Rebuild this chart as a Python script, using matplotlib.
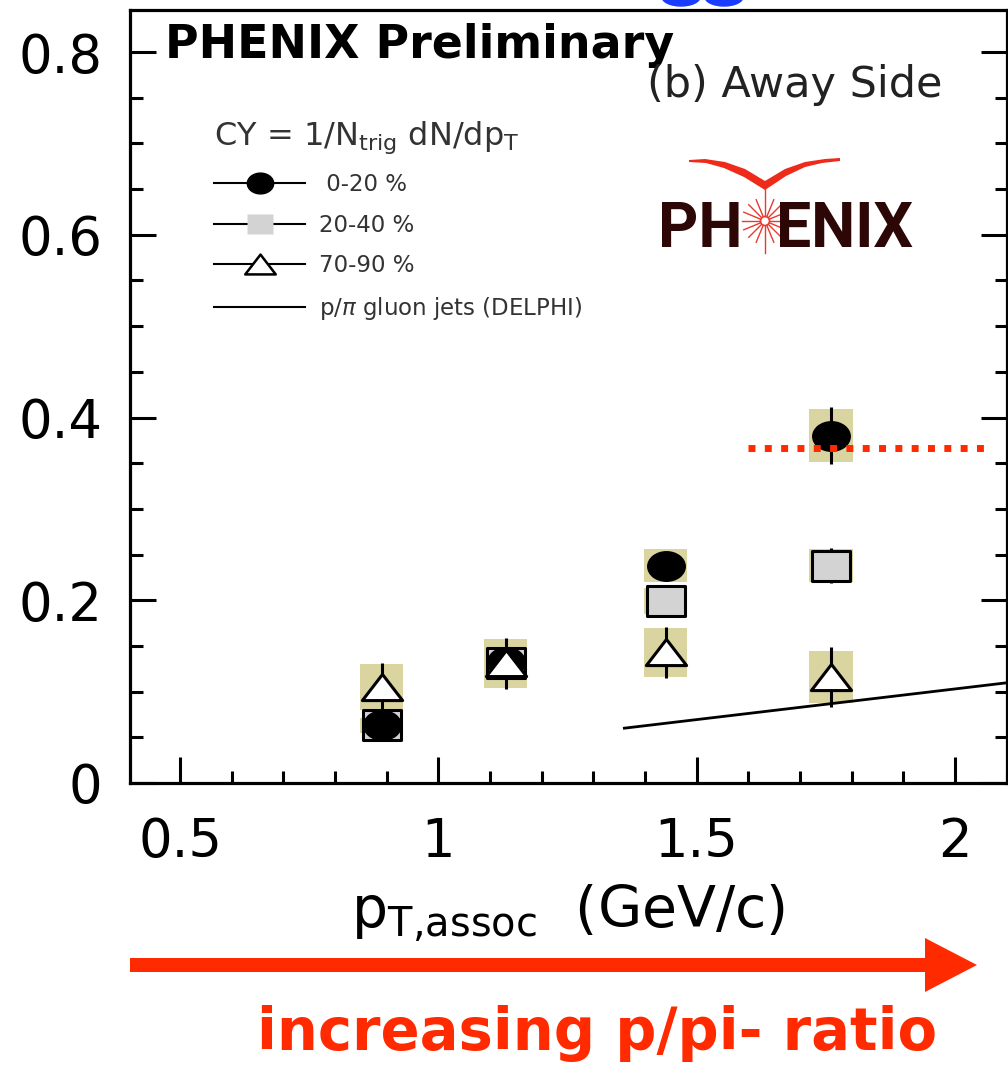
import numpy as np
import matplotlib
matplotlib.use('Agg')
import matplotlib.pyplot as plt
from matplotlib.path import Path
from matplotlib.transforms import Affine2D
from matplotlib.patches import Rectangle, FancyArrow, Ellipse, Polygon
from matplotlib.lines import Line2D

# away-side conditional yields vs associated pT, three centrality classes
pt_assoc = [0.89, 1.13, 1.44, 1.76]

cy_0_20 = [0.063, 0.132, 0.238, 0.380]
stat_0_20 = [0.010, 0.015, 0.012, 0.031]
sys_0_20 = [0.008, 0.020, 0.018, 0.029]

cy_20_40 = [0.063, 0.131, 0.199, 0.238]
stat_20_40 = [0.010, 0.012, 0.015, 0.019]
sys_20_40 = [0.008, 0.020, 0.014, 0.018]

cy_70_90 = [0.105, 0.131, 0.143, 0.116]
stat_70_90 = [0.026, 0.028, 0.028, 0.033]
sys_70_90 = [0.025, 0.027, 0.027, 0.028]

# p/pi in gluon jets (DELPHI) and reference level
delphi_x = [1.36, 2.12]
delphi_y = [0.060, 0.111]
ref_x = [1.60, 2.07]
ref_y = [0.367, 0.367]

xticks = [0.5, 1.0, 1.5, 2.0]
yticks = [0, 0.2, 0.4, 0.6, 0.8]

KHAKI = '#d9d4a0'
RED = '#ff2a00'

# slightly wide marker shapes
ell = Affine2D().scale(1.27, 1.0).transform_path(Path.unit_circle())
box = Path([(-1.27, -1), (1.27, -1), (1.27, 1), (-1.27, 1), (-1.27, -1)], closed=True)
tri = Path([(0, 1), (-1.54, -1), (1.54, -1), (0, 1)], closed=True)

fig = plt.figure(figsize=(10.08, 10.65), dpi=100)
ax = fig.add_axes([130/1008, 1-783/1065, 877/1008, 773/1065])

for side in ['left', 'right', 'top', 'bottom']:
    ax.spines[side].set_linewidth(2.3)

# systematic boxes
for ys, ss in [(cy_70_90, sys_70_90), (cy_20_40, sys_20_40), (cy_0_20, sys_0_20)]:
    for x, y, s in zip(pt_assoc, ys, ss):
        ax.add_patch(Rectangle((x-0.042, y-s), 0.084, 2*s, facecolor=KHAKI,
                               edgecolor='none', zorder=1))

ax.errorbar(pt_assoc, cy_20_40, yerr=stat_20_40, fmt='none', ecolor='k', elinewidth=2.2, zorder=2)
ax.errorbar(pt_assoc, cy_0_20, yerr=stat_0_20, fmt='none', ecolor='k', elinewidth=2.2, zorder=2)
ax.errorbar(pt_assoc, cy_70_90, yerr=stat_70_90, fmt='none', ecolor='k', elinewidth=2.2, zorder=2)

ax.plot(pt_assoc, cy_20_40, ls='none', marker=box, ms=27, mfc='#d3d3d3', mec='k', mew=2.2, zorder=3)
ax.plot(pt_assoc, cy_0_20, ls='none', marker=ell, ms=27, mfc='k', mec='k', mew=1, zorder=4)
ax.plot(pt_assoc, cy_70_90, ls='none', marker=tri, ms=29, mfc='white', mec='k', mew=2.2, zorder=5)

ax.plot(delphi_x, delphi_y, color='k', lw=2.0, zorder=2)
ax.plot(ref_x, ref_y, color=RED, lw=5, ls=(0, (1, 1.35)), zorder=6)

ax.set_xlim(0.4032, 2.1006)
ax.set_ylim(0, 0.846)
ax.set_xticks(xticks)
ax.set_xticklabels(['%g' % v for v in xticks])
ax.set_yticks(yticks)
ax.set_yticklabels(['0' if v == 0 else '%.1f' % v for v in yticks])
ax.set_xticks(np.arange(0.5, 2.11, 0.1), minor=True)
ax.set_yticks(np.arange(0, 0.85, 0.05), minor=True)
ax.tick_params(which='both', direction='in', right=True, top=False, width=2.2)
ax.tick_params(which='major', length=19, labelsize=38, pad=20)
ax.tick_params(which='minor', length=9)
ax.tick_params(axis='x', which='major', pad=24)

ax.set_xlabel(r'p$_{\rm T{,}assoc}$  (GeV/c)', fontsize=41, labelpad=10)

handles = [
    Line2D([], [], color='k', lw=1.5, marker=ell, ms=19, mfc='k', mec='k'),
    Line2D([], [], color='k', lw=1.5, marker=box, ms=19, mfc='#d3d3d3', mec='none'),
    Line2D([], [], color='k', lw=1.5, marker=tri, ms=22, mfc='white', mec='k', mew=1.8),
    Line2D([], [], color='k', lw=1.5),
]
labels = [' 0-20 %', '20-40 %', '70-90 %', r'p/$\pi$ gluon jets (DELPHI)']
leg = ax.legend(handles, labels, loc='upper left', bbox_to_anchor=(0.072, 0.885), frameon=False,
                fontsize=16.5, handlelength=4.0, handletextpad=0.6, labelspacing=0.76,
                title=r'CY = 1/N$_{\rm trig}$ dN/dp$_{\rm T}$', title_fontsize=23,
                alignment='left')
for t in leg.get_texts():
    t.set_color('#333333')
leg.get_title().set_color('#333333')

# pixel overlay for labels, logo and arrow
ov = fig.add_axes([0, 0, 1, 1])
ov.set_xlim(0, 1008)
ov.set_ylim(1065, 0)
ov.axis('off')

ov.add_patch(Ellipse((681, -3), 38, 18, color='#1a3cff', clip_on=False))
ov.add_patch(Ellipse((724, -3), 38, 18, color='#1a3cff', clip_on=False))

ov.text(165, 58, 'PHENIX Preliminary', fontsize=33, fontweight='bold', family='DejaVu Sans',
        va='baseline', ha='left', color='k')
ov.text(647, 97, '(b) Away Side', fontsize=31, va='baseline', ha='left', color='#222222')

# PHENIX logo
logo_font = dict(fontsize=45, family='Roboto', fontweight='bold',
                 va='baseline', color='#2d0606')
ov.text(742, 247, 'PH', ha='right', **logo_font)
ov.text(776, 247, 'ENIX', ha='left', **logo_font)
cx, cy = 765, 221
for ang in np.arange(0, 360, 22.5):
    a = np.deg2rad(ang)
    r = 32 if ang in (90, 270) else 23
    ov.plot([cx + 5*np.cos(a), cx + r*np.cos(a)], [cy + 5*np.sin(a), cy + r*np.sin(a)],
            color='#e83a2e', lw=1.0)
ov.add_patch(Ellipse((cx, cy), 9, 9, facecolor='white', edgecolor='#e83a2e', lw=1.2))
wing = Polygon([(689, 160), (705, 159), (725, 162), (745, 169), (765, 181), (785, 169),
                (805, 162), (825, 159), (840, 158), (840, 161), (822, 163), (805, 167),
                (786, 176), (765, 190), (744, 177), (724, 168), (706, 163), (689, 162)],
               closed=True, facecolor='#ee2a1a', edgecolor='none')
ov.add_patch(wing)

ov.add_patch(FancyArrow(130, 965, 847, 0, width=14, head_width=54, head_length=52,
                        length_includes_head=True, color=RED, lw=0))
ov.text(257, 1050, 'increasing p/pi- ratio', fontsize=41.5, fontweight='bold', family='DejaVu Sans',
        va='baseline', ha='left', color=RED)

fig.savefig('out.png', dpi=100)
